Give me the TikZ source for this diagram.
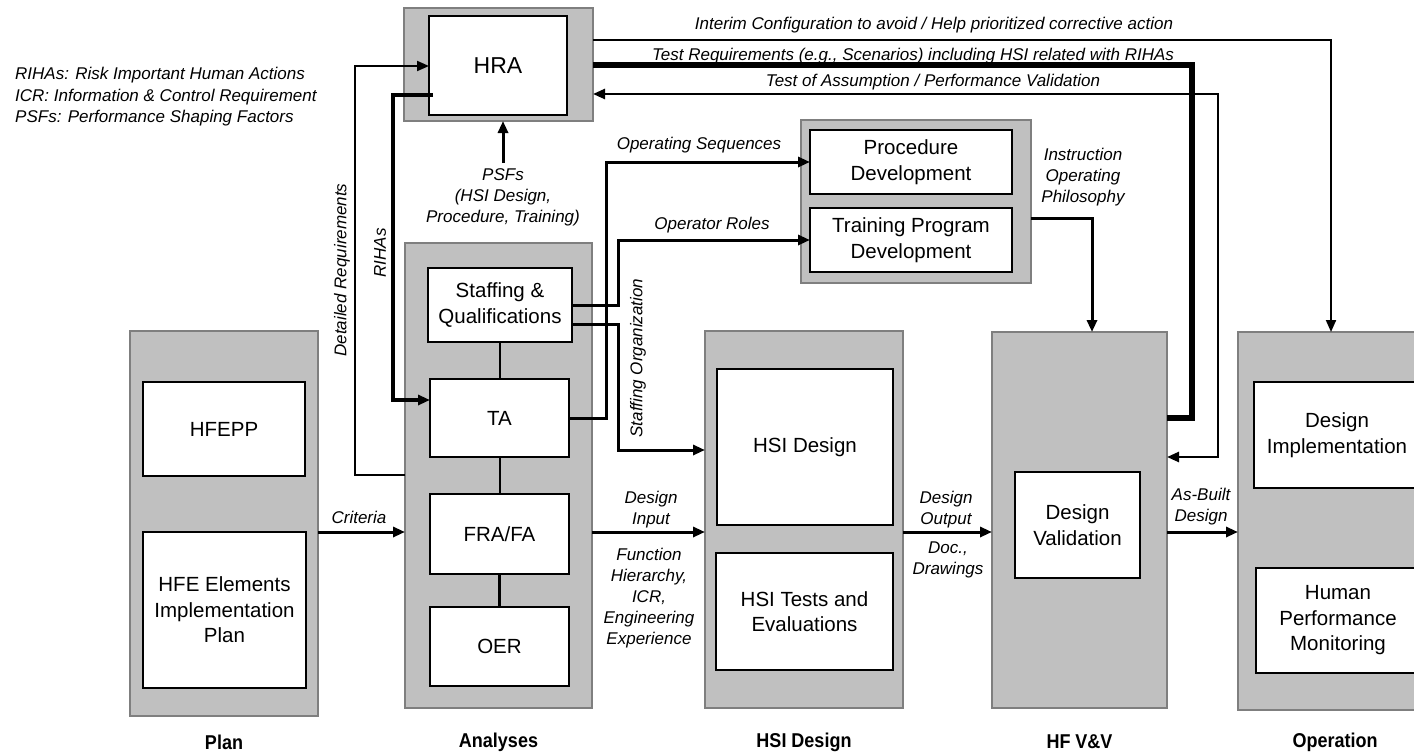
\documentclass[tikz,border=0pt]{standalone}
\usepackage{fontspec}
\setmainfont{Liberation Sans}
\usetikzlibrary{arrows.meta}
\definecolor{boxgray}{HTML}{C0C0C0}
\definecolor{edgegray}{HTML}{7F7F7F}
\newcommand\bxfont{\fontsize{20.5}{25.5}\selectfont}
\newcommand\lbfont{\fontsize{17}{21}\selectfont\itshape}
\newcommand\stfont{\fontsize{20}{23}\selectfont\bfseries}
\newcommand\stagetext[1]{\scalebox{0.9}[1]{#1}}
\begin{document}
\begin{tikzpicture}[x=1pt,y=-1pt,
  outerbox/.style={draw=edgegray, fill=boxgray, line width=1.2pt, inner sep=0pt, outer sep=0pt},
  innerbox/.style={draw=black, fill=white, line width=1.6pt, inner sep=0pt, outer sep=0pt, align=center, font=\bxfont},
  lbl/.style={font=\lbfont, align=center, inner sep=0pt},
  stage/.style={font=\stfont, inner sep=0pt},
  link/.style={line width=3pt},
  thinlink/.style={line width=2pt},
  heavylink/.style={line width=6pt},
  tip/.style={-{Triangle[length=12pt,width=10pt]}},
  bothtips/.style={{Triangle[length=12pt,width=10pt]}-{Triangle[length=12pt,width=10pt]}},
]
\useasboundingbox (0,0) rectangle (1414,755);
\clip (0,0) rectangle (1414,755);

% ---- stage containers ----
\node[outerbox, minimum width=189pt, minimum height=113pt] (hraO) at (498.5,64.5) {};
\node[outerbox, minimum width=188pt, minimum height=385pt] (plO) at (224,523.5) {};
\node[outerbox, minimum width=187pt, minimum height=465pt] (anO) at (498.5,475.5) {};
\node[outerbox, minimum width=230pt, minimum height=163pt] (pcO) at (916,201.5) {};
\node[outerbox, minimum width=198pt, minimum height=377pt] (hsO) at (804,519.5) {};
\node[outerbox, minimum width=175pt, minimum height=376pt] (vvO) at (1079.5,520) {};
\node[outerbox, minimum width=194pt, minimum height=378pt] (opO) at (1335,521) {};

% ---- activities ----
\node[innerbox, minimum width=138pt, minimum height=99pt, font=\fontsize{23}{27}\selectfont] (hra) at (498,65.5) {HRA};
\node[innerbox, minimum width=162pt, minimum height=94pt] (hfepp) at (224,429) {HFEPP};
\node[innerbox, minimum width=163pt, minimum height=156pt] (hfe) at (224.5,610) {HFE Elements\\Implementation\\Plan};
\node[innerbox, minimum width=144pt, minimum height=74pt] (sq) at (500,305) {Staffing \&\\Qualifications};
\node[innerbox, minimum width=139pt, minimum height=78pt] (ta) at (499.5,418) {TA};
\node[innerbox, minimum width=139pt, minimum height=80pt] (fr) at (499.5,534) {FRA/FA};
\node[innerbox, minimum width=139pt, minimum height=79pt] (oe) at (499.5,646.5) {OER};
\node[innerbox, minimum width=202pt, minimum height=64pt] (pd) at (911,162) {Procedure\\Development};
\node[innerbox, minimum width=202pt, minimum height=64pt] (tr) at (911,240) {Training Program\\Development};
\node[innerbox, minimum width=176pt, minimum height=156pt] (hsd) at (805,447) {HSI Design};
\node[innerbox, minimum width=177pt, minimum height=117pt] (hst) at (804.5,611.5) {HSI Tests and\\Evaluations};
\node[innerbox, minimum width=125pt, minimum height=106pt] (dv) at (1077.5,525) {Design\\Validation};
\node[innerbox, minimum width=166pt, minimum height=106pt] (di) at (1337,435) {Design\\Implementation};
\node[innerbox, minimum width=164pt, minimum height=105pt] (hpm) at (1338,620.5) {Human\\Performance\\Monitoring};

% ---- links inside the analyses stage ----
\draw[thinlink] (sq.south) -- (sq.south |- ta.north);
\draw[thinlink] (ta.south) -- (ta.south |- fr.north);
\draw[link] (fr.south) -- (fr.south |- oe.north);

% ---- flow between stages ----
\draw[link,tip] (plO.east |- 0,532) -- (anO.west |- 0,532);
\draw[link,tip] (anO.east |- 0,532) -- (hsO.west |- 0,532);
\draw[link,tip] (hsO.east |- 0,532) -- (vvO.west |- 0,532);
\draw[link,tip] (vvO.east |- 0,532) -- (opO.west |- 0,532);

% analyses feed HRA and TA
\draw[thinlink,tip] (anO.west |- 0,475) -- (355,475) -- (355,66) -- (hra.west |- 0,66);
\coordinate (rihaStart) at (433,95);
\draw[line width=3.5pt,tip] (rihaStart) -- (393,95) -- (393,400) -- (ta.west |- 0,400);

% PSFs back to HRA
\node[lbl] (psf) at (503,197) {PSFs\\(HSI Design,\\Procedure, Training)};
\draw[link,tip] (psf.north) ++(0,-5) -- (psf.north |- hraO.south);

% analyses to procedures, training and HSI design
\draw[link,tip] (ta.east) -- (606,418) |- (pd.west);
\draw[link,tip] (sq.east) -- (618,305) |- (tr.west);
\draw[link,tip] (sq.east |- 0,324) -- (618,324) |- (hsO.west |- 0,450);

% training to V&V
\draw[link,tip] (pcO.east |- 0,218) -- (1092,218) -- (vvO.north -| 1092,0);

% HRA to the later stages
\draw[thinlink,tip] (hraO.east |- 0,40) -- (1331,40) -- (opO.north -| 1331,0);
\draw[heavylink] (hraO.east |- 0,65) -- (1192,65) -- (1192,418) -- (vvO.east |- 0,418);
\draw[line width=2.5pt,bothtips] (hraO.east |- 0,94) -- (1218,94) -- (1218,457) -- (vvO.east |- 0,457);

% ---- labels ----
\node[lbl, anchor=north west, align=left, font=\fontsize{17}{21.5}\selectfont\itshape] (legend) at (15,67)
  {RIHAs: Risk Important Human Actions\\ICR: Information \& Control Requirement\\PSFs: Performance Shaping Factors};
\node[lbl] (lInterim) at (934,25) {Interim Configuration to avoid / Help prioritized corrective action};
\node[lbl] (lTestReq) at (913,56) {Test Requirements (e.g., Scenarios) including HSI related with RIHAs};
\node[lbl] (lTestAs) at (933,82) {Test of Assumption / Performance Validation};
\node[lbl, rotate=90] (lDetail) at (342,270) {Detailed Requirements};
\node[lbl, rotate=90] (lRiha) at (380,253) {RIHAs};
\node[lbl, rotate=90] (lStaff) at (638,358) {Staffing Organization};
\node[lbl] (lOpSeq) at (699,145) {Operating Sequences};
\node[lbl] (lOpRole) at (712,225) {Operator Roles};
\node[lbl] (lInstr) at (1083,177) {Instruction\\Operating\\Philosophy};
\node[lbl] (lCrit) at (359,517) {Criteria};
\node[lbl] (lDin) at (651,510) {Design\\Input};
\node[lbl] (lFunc) at (649,598) {Function\\Hierarchy,\\ICR,\\Engineering\\Experience};
\node[lbl] (lDout) at (946,510) {Design\\Output};
\node[lbl] (lDoc) at (948,560) {Doc.,\\Drawings};
\node[lbl] (lBuilt) at (1201,507) {As-Built\\Design};

% ---- stage names ----
\node[stage] (sPlan) at (plO.south |- 0,742) {\stagetext{Plan}};
\node[stage] (sAn) at (anO.south |- 0,742) {\stagetext{Analyses}};
\node[stage] (sHsi) at (hsO.south |- 0,742) {\stagetext{HSI Design}};
\node[stage] (sVv) at (vvO.south |- 0,742) {\stagetext{HF V\&V}};
\node[stage] (sOp) at (1335,742) {\stagetext{Operation}};
\end{tikzpicture}
\end{document}
